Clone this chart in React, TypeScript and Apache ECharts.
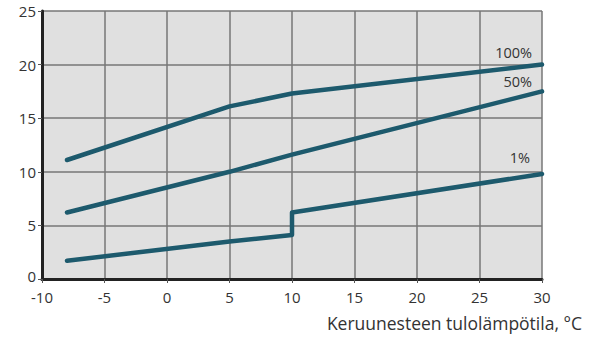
import React, { useEffect, useRef } from "react";
import * as echarts from "echarts";

const xTicks = [-10, -5, 0, 5, 10, 15, 20, 25, 30];
const series100: [number, number][] = [[-8, 11.1], [5, 16.1], [10, 17.3], [30, 20.0]];
const series50: [number, number][] = [[-8, 6.2], [5, 10.0], [10, 11.6], [30, 17.5]];
const series1: [number, number][] = [[-8, 1.7], [5, 3.5], [10, 4.1], [10, 6.2], [30, 9.8]];
const seriesNames = ["100%", "50%", "1%"];
const xTitle = "Keruunesteen tulolämpötila, °C";

const LINE = "#1d5a6d";
const FONT = "Open Sans";

export default function App() {
  const ref = useRef<HTMLDivElement>(null);
  useEffect(() => {
    document.body.style.margin = "0";
    const chart = echarts.init(ref.current!, undefined, { renderer: "svg" });
    const mk = (name: string, data: [number, number][], offX: number, offY: number) => ({
      name,
      type: "line",
      data,
      showSymbol: false,
      symbol: "none",
      lineStyle: { color: LINE, width: 4.5, cap: "round", join: "round" },
      endLabel: {
        show: true,
        formatter: name,
        align: "right",
        verticalAlign: "bottom",
        offset: [offX, offY],
        color: "#333",
        fontFamily: FONT,
        fontSize: 14.5,
      },
    });
    const labelStyle = { fontFamily: FONT, fontSize: 15, color: "#333", lineHeight: 12 };
    chart.setOption({
      animation: false,
      grid: {
        left: 42,
        right: 50,
        top: 11,
        bottom: 64,
        show: true,
        backgroundColor: "#e0e0e0",
        borderWidth: 0,
        outerBoundsMode: "none",
      },
      xAxis: {
        type: "value",
        min: -10,
        max: 30,
        interval: 5,
        name: xTitle,
        nameLocation: "end",
        nameGap: 0,
        nameTextStyle: {
          fontFamily: FONT,
          fontSize: 17.5,
          color: "#333",
          align: "right",
          verticalAlign: "top",
          padding: [35, -40, 0, 0],
        },
        axisLine: { show: true, onZero: false, lineStyle: { color: "#222", width: 3 } },
        axisTick: { show: true, length: 4, lineStyle: { color: "#555", width: 1 } },
        axisLabel: { ...labelStyle, margin: 12 },
        splitLine: { show: true, lineStyle: { color: "#777", width: 1.5 } },
      },
      yAxis: {
        type: "value",
        min: 0,
        max: 25,
        interval: 5,
        axisLine: { show: true, onZero: false, lineStyle: { color: "#222", width: 3 } },
        axisTick: { show: true, length: 4, lineStyle: { color: "#555", width: 1 } },
        axisLabel: {
          ...labelStyle,
          margin: 6,
          verticalAlign: "middle",
          verticalAlignMaxLabel: "middle",
          verticalAlignMinLabel: "middle",
          formatter: (v: number) => (v === 0 ? "{z|0}" : String(v)),
          rich: { z: { ...labelStyle, padding: [0, 0, 7, 0] } },
        },
        splitLine: { show: true, lineStyle: { color: "#777", width: 1.5 } },
      },
      series: [
        mk(seriesNames[0], series100, -18, -5),
        mk(seriesNames[1], series50, -18, -2),
        mk(seriesNames[2], series1, -20, -9),
      ],
    });
    return () => chart.dispose();
  }, []);
  return <div ref={ref} style={{ width: 592, height: 343 }} />;
}
